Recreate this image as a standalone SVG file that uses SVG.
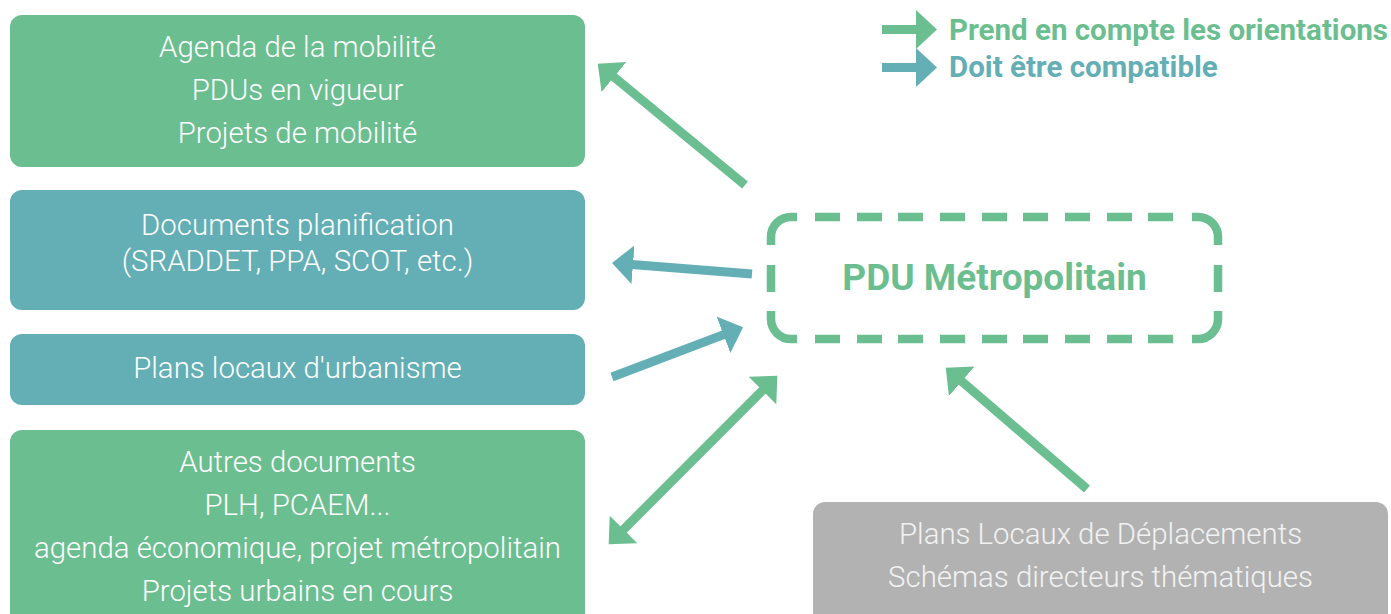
<svg xmlns="http://www.w3.org/2000/svg" width="1391" height="614" viewBox="0 0 1391 614">
<style>
.green{fill:#6bbe90}
.teal{fill:#63afb5}
.gray{fill:#b2b2b2}
.bt{font-family:Roboto,"Liberation Sans",sans-serif;font-weight:300;font-size:29.4px;fill:#ffffff;text-anchor:middle}
.gt{fill:#f2f2f2}
.lg{font-family:Roboto,"Liberation Sans",sans-serif;font-weight:700;font-size:29.5px}
.pdu{font-size:37px;text-anchor:middle}
.sg{stroke:#6bbe90;stroke-width:9;fill:none}
.st{stroke:#63afb5;stroke-width:9;fill:none}
.dash{stroke:#6bbe90;stroke-width:8.5;fill:none;stroke-linecap:butt}
</style>
<defs>
<marker id="hg" markerUnits="userSpaceOnUse" viewBox="0 0 22 40" refX="1" refY="20" markerWidth="22" markerHeight="40" orient="auto-start-reverse"><path d="M0,0.5 L21,20 L0,39.5 Z" fill="#6bbe90"/></marker>
<marker id="ht" markerUnits="userSpaceOnUse" viewBox="0 0 22 40" refX="1" refY="20" markerWidth="22" markerHeight="40" orient="auto"><path d="M0,0.5 L21,20 L0,39.5 Z" fill="#63afb5"/></marker>
</defs>
<rect width="1391" height="614" fill="#ffffff"/>

<g id="legend">
<line class="sg" x1="882" y1="29.5" x2="917" y2="29.5" marker-end="url(#hg)"/>
<line class="st" x1="882" y1="67.5" x2="917" y2="67.5" marker-end="url(#ht)"/>
<text class="lg green" x="949" y="40">Prend en compte les orientations</text>
<text class="lg teal" x="949" y="77">Doit être compatible</text>
</g>

<g id="node-mobilite">
<rect class="green" x="10" y="15" width="575" height="152" rx="12"/>
<text class="bt" x="297.5" y="57">Agenda de la mobilité</text>
<text class="bt" x="297.5" y="100">PDUs en vigueur</text>
<text class="bt" x="297.5" y="143">Projets de mobilité</text>
</g>

<g id="node-planification">
<rect class="teal" x="10" y="190" width="575" height="120" rx="12"/>
<text class="bt" x="297.5" y="235">Documents planification</text>
<text class="bt" x="297.5" y="271">(SRADDET, PPA, SCOT, etc.)</text>
</g>

<g id="node-plu">
<rect class="teal" x="10" y="334" width="575" height="71" rx="12"/>
<text class="bt" x="297.5" y="378">Plans locaux d'urbanisme</text>
</g>

<g id="node-autres">
<rect class="green" x="10" y="430" width="575" height="200" rx="12"/>
<text class="bt" x="297.5" y="472">Autres documents</text>
<text class="bt" x="297.5" y="515">PLH, PCAEM...</text>
<text class="bt" x="297.5" y="558">agenda économique, projet métropolitain</text>
<text class="bt" x="297.5" y="601">Projets urbains en cours</text>
</g>

<g id="node-pld">
<rect class="gray" x="813" y="502" width="575" height="130" rx="12"/>
<text class="bt gt" x="1100.5" y="544">Plans Locaux de Déplacements</text>
<text class="bt gt" x="1100.5" y="587">Schémas directeurs thématiques</text>
</g>

<g id="node-pdu">
<path class="dash" d="M771,245 L771,237 A20,20 0 0 1 791,217 L797,217
M815,217H840 M857,217H882 M898,217H923 M940,217H965 M982,217H1007 M1023,217H1048 M1065,217H1090 M1107,217H1132 M1148,217H1173
M1192,217 L1198,217 A20,20 0 0 1 1218,237 L1218,245
M1218,265V292 M771,265V292
M771,311 L771,319 A20,20 0 0 0 791,339 L797,339
M815,339H840 M857,339H882 M898,339H923 M940,339H965 M982,339H1007 M1023,339H1048 M1065,339H1090 M1107,339H1132 M1148,339H1173
M1192,339 L1198,339 A20,20 0 0 0 1218,319 L1218,311"/>
<text class="lg pdu green" x="994.5" y="290">PDU Métropolitain</text>
</g>

<g id="connectors">
<line class="sg" x1="745" y1="185" x2="613.2" y2="76.4" marker-end="url(#hg)"/>
<line class="st" x1="752" y1="274" x2="632" y2="264.6" marker-end="url(#ht)"/>
<line class="st" x1="612" y1="377" x2="724.4" y2="334.4" marker-end="url(#ht)"/>
<line class="sg" x1="622.8" y1="530.2" x2="763.2" y2="389.8" marker-start="url(#hg)" marker-end="url(#hg)"/>
<line class="sg" x1="1087" y1="489" x2="960.9" y2="380.7" marker-end="url(#hg)"/>
</g>
</svg>
